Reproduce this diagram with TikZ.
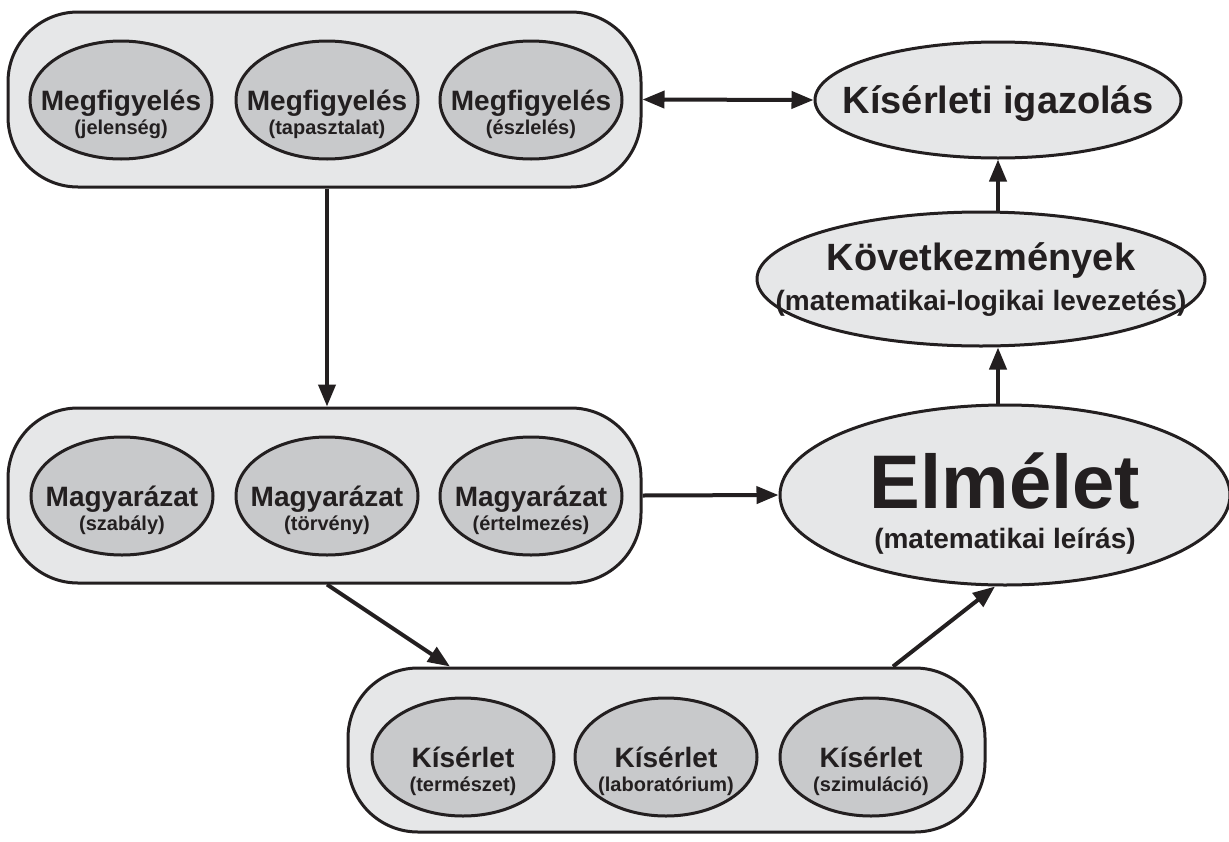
\documentclass[tikz,border=0pt]{standalone}
\usepackage{fontspec}
\setmainfont{Liberation Sans}
\usetikzlibrary{shapes.geometric,arrows.meta,calc}
\definecolor{boxfill}{HTML}{E6E7E8}
\definecolor{innerfill}{HTML}{C8C9CB}
\definecolor{ink}{HTML}{231F20}
\newcommand\fsz[1]{\fontsize{#1}{#1}\selectfont\bfseries}
\newcommand\ovalpair[5]{%
  \node[innerell] (#1) at (#2,#3) {};
  \node[txt,font=\fsz{28}] (#1m) at ([yshift=-10pt]#1.center) {#4};
  \node[txt,font=\fsz{20}] (#1s) at ([yshift=-34pt]#1.center) {#5};
}
\begin{document}
\begin{tikzpicture}[x=1pt,y=-1pt,
  container/.style={draw=ink, line width=3pt, fill=boxfill, rounded corners=70pt,
    minimum width=633pt, minimum height=175pt, inner sep=0pt},
  innerell/.style={ellipse, draw=ink, line width=3pt, fill=innerfill,
    minimum width=182pt, minimum height=118pt, inner sep=0pt},
  outerell/.style={ellipse, draw=ink, line width=3pt, fill=boxfill, inner sep=0pt},
  txt/.style={anchor=base, inner sep=0pt, text=ink},
  arr/.style={draw=ink, line width=4pt, -{Triangle[length=22pt,width=17pt]}},
  darr/.style={draw=ink, line width=4pt, {Triangle[length=22pt,width=17pt]}-{Triangle[length=22pt,width=17pt]}},
]
\path[use as bounding box, fill=white] (0,0) rectangle (1229,841);

% containers
\node[container] (obs) at (324.5,99.5) {};
\node[container] (expl) at (324.5,495.5) {};
\node[container, minimum width=637pt, minimum height=164pt] (exper) at (666.5,750) {};

% inner ellipses
\ovalpair{o1}{121}{100}{Megfigyelés}{(jelenség)}
\ovalpair{o2}{327}{100}{Megfigyelés}{(tapasztalat)}
\ovalpair{o3}{531}{100}{Megfigyelés}{(észlelés)}

\ovalpair{m1}{122}{496}{Magyarázat}{(szabály)}
\ovalpair{m2}{327}{496}{Magyarázat}{(törvény)}
\ovalpair{m3}{531}{496}{Magyarázat}{(értelmezés)}

\ovalpair{k1}{463}{757}{Kísérlet}{(természet)}
\ovalpair{k2}{666}{757}{Kísérlet}{(laboratórium)}
\ovalpair{k3}{871}{757}{Kísérlet}{(szimuláció)}

% right ellipses
\node[outerell, minimum width=366pt, minimum height=116pt] (ver) at (998,100) {};
\node[txt, font=\fsz{38}] (vert) at ([yshift=-13pt]ver.center) {Kísérleti igazolás};

\node[outerell, minimum width=448pt, minimum height=134pt] (cons) at (981,279) {};
\node[txt, font=\fsz{38}] (consm) at ([yshift=9pt]cons.center) {Következmények};
\node[txt, font=\fsz{28}] (conss) at ([yshift=-31pt]cons.center) {(matematikai-logikai levezetés)};

\node[outerell, minimum width=450pt, minimum height=180pt] (theory) at (1005,495) {};
\node[txt, font=\fsz{76}] (theorym) at ([yshift=-13pt]theory.center) {Elmélet};
\node[txt, font=\fsz{28}] (theorys) at ([yshift=-53pt]theory.center) {(matematikai leírás)};

% connectors
\draw[arr] ([xshift=2.5pt]obs.south) -- ([xshift=2.5pt]expl.north);
\draw[darr] (obs.east) -- (ver.west);
\draw[arr] (cons.north -| ver.south) -- (ver.south);
\draw[arr] (theory.north -| ver.south) -- (cons.south -| ver.south);
\draw[arr] (expl.east) -- (theory.west);
\draw[arr] ([xshift=2.5pt]expl.south) -- ([xshift=-216.5pt]exper.north);
\draw[arr] ([xshift=226.5pt]exper.north) -- ([xshift=-10pt]theory.south);
\end{tikzpicture}
\end{document}
